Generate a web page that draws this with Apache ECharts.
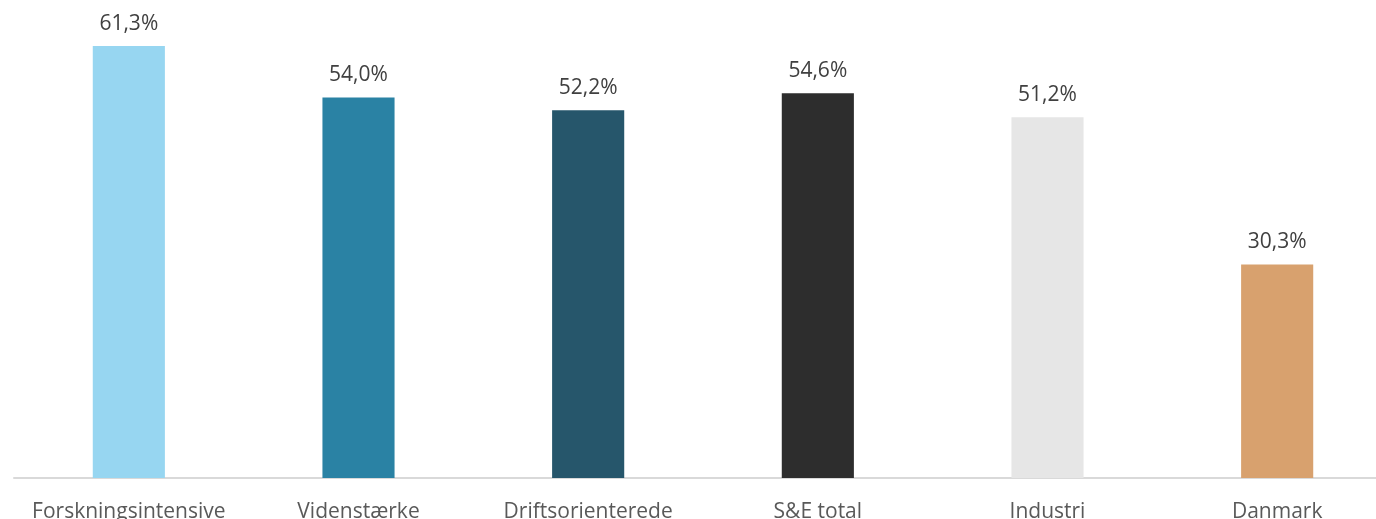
<!DOCTYPE html>
<html>
<head>
<meta charset="utf-8">
<script src="https://cdn.jsdelivr.net/npm/echarts@6/dist/echarts.min.js"></script>
<style>
  html, body { margin: 0; padding: 0; background: #ffffff; overflow: hidden; width: 1376px; height: 519px; }
  /* the plot runs slightly past the right edge of the page */
  #chart { width: 1392px; height: 519px; }
</style>
</head>
<body>
<div id="chart"></div>
<script>
// Andel pr. gruppe (procent)
const categories = ['Forskningsintensive', 'Videnstærke', 'Driftsorienterede', 'S&E total', 'Industri', 'Danmark'];
const values = [61.3, 54.0, 52.2, 54.6, 51.2, 30.3];
const barColors = ['#97D6F1', '#2A82A4', '#26566B', '#2D2D2D', '#E6E6E6', '#D8A16E'];

const chart = echarts.init(document.getElementById('chart'), null, { renderer: 'canvas' });

chart.setOption({
  animation: false,
  grid: { left: 14, right: 0, top: 20, bottom: 41, containLabel: false, outerBoundsMode: 'none' },
  xAxis: {
    type: 'category',
    data: categories,
    axisLine: { show: true, lineStyle: { color: '#D9D9D9', width: 2 } },
    axisTick: { show: false },
    axisLabel: {
      color: '#595959',
      fontFamily: 'Open Sans',
      fontSize: 21,
      margin: 24,
      interval: 0
    }
  },
  yAxis: {
    type: 'value',
    min: 0,
    max: 65,
    show: false,
    splitLine: { show: false }
  },
  series: [{
    type: 'bar',
    barWidth: '31.4%',
    data: values.map((v, i) => ({ value: v, itemStyle: { color: barColors[i] } })),
    label: {
      show: true,
      position: 'top',
      distance: 12,
      color: '#404040',
      fontFamily: 'Open Sans',
      fontSize: 21,
      formatter: p => p.value.toFixed(1).replace('.', ',') + '%'
    }
  }]
});
</script>
</body>
</html>
